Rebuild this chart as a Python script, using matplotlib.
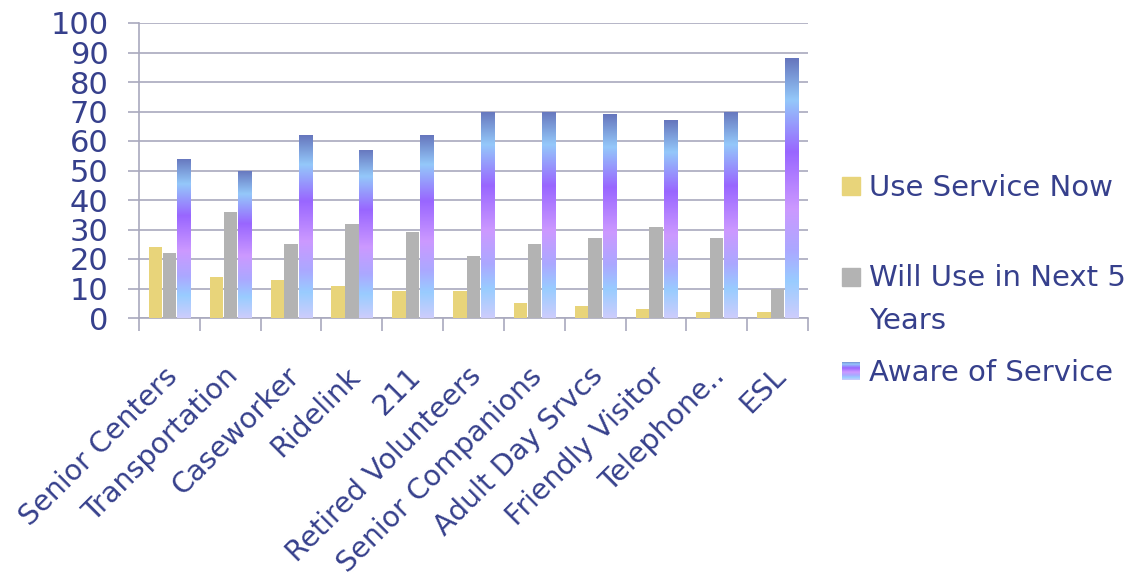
import numpy as np
import matplotlib
matplotlib.use("Agg")
import matplotlib.pyplot as plt
import matplotlib.transforms as mtransforms
from matplotlib.colors import LinearSegmentedColormap
from matplotlib.patches import Rectangle

# ---- data -------------------------------------------------------------
categories = ["Senior Centers", "Transportation", "Caseworker", "Ridelink", "211",
              "Retired Volunteers", "Senior Companions", "Adult Day Srvcs",
              "Friendly Visitor", "Telephone..", "ESL"]
use_now = [24, 14, 13, 11, 9, 9, 5, 4, 3, 2, 2]
use_next5 = [22, 36, 25, 32, 29, 21, 25, 27, 31, 27, 10]
aware = [54, 50, 62, 57, 62, 70, 70, 69, 67, 70, 88]
series_labels = ["Use Service Now", ["Will Use in Next 5", "Years"], "Aware of Service"]
y_ticks = list(range(0, 101, 10))

# ---- style ------------------------------------------------------------
text_color = "#36408C"
grid_color = "#A9A9BE"
yellow = "#E8D47A"
gray = "#B3B3B3"
aware_cmap = LinearSegmentedColormap.from_list(
    "aware",
    [(0.00, "#CDCDFC"), (0.14, "#99CCFF"), (0.26, "#ABA8FF"), (0.42, "#CC99FF"),
     (0.64, "#9966FF"), (0.84, "#94C8FA"), (1.00, "#6676BD")])

plt.rcParams["font.family"] = ["DejaVu Sans"]

fig = plt.figure(figsize=(11.35, 5.8), dpi=100)
fig.patch.set_facecolor("white")
W, H = 1135, 580
ax = fig.add_axes([139 / W, 1 - 318 / H, (808 - 139) / W, (318 - 23) / H])

x = np.arange(len(categories))
width = 0.22
ax.bar(x - 0.225, use_now, width, color=yellow, zorder=3)
ax.bar(x, use_next5, width, color=gray, zorder=3)
aware_bars = ax.bar(x + 0.235, aware, width, color="none", zorder=3)

# vertical gradient fill for each awareness bar
grad = np.linspace(0, 1, 256).reshape(-1, 1)
for rect in aware_bars:
    x0, w, h = rect.get_x(), rect.get_width(), rect.get_height()
    im = ax.imshow(grad, cmap=aware_cmap, origin="lower", aspect="auto",
                   extent=(x0, x0 + w, 0, h), zorder=3, interpolation="bilinear")
    im.set_clip_path(rect)

ax.set_xlim(-0.5, len(categories) - 0.5)
ax.set_ylim(0, 100)

# axes, grid and ticks
for side in ("top", "right"):
    ax.spines[side].set_visible(False)
for side in ("left", "bottom"):
    ax.spines[side].set_color(grid_color)
    ax.spines[side].set_linewidth(1.2)
ax.set_yticks(y_ticks)
ax.yaxis.grid(True, color=grid_color, linewidth=1.2, zorder=0)
ax.set_axisbelow(True)
ax.tick_params(axis="y", length=8, width=1.2, color=grid_color, pad=14,
               labelsize=22, labelcolor=text_color)

ax.set_xticks(np.arange(len(categories) + 1) - 0.5)
ax.set_xticklabels([])
ax.tick_params(axis="x", length=9, width=1.2, color=grid_color)

# rotated category labels
label_trans = mtransforms.blended_transform_factory(ax.transData, ax.transAxes) + \
    mtransforms.ScaledTranslation(-6 / 100, -44 / 100, fig.dpi_scale_trans)
for xi, name in zip(x, categories):
    ax.text(xi, 0, name, transform=label_trans, rotation=45,
            rotation_mode="anchor", ha="right", va="top",
            fontsize=20.5, color=text_color, clip_on=False)

# legend drawn on the figure
sq = 18
legend_rows = [(177, yellow, [196]), (268, gray, [286, 329]), (362, None, [381])]
for (top, col, baselines), label in zip(legend_rows, series_labels):
    if col is not None:
        fig.patches.append(Rectangle((842 / W, 1 - (top + sq) / H), sq / W, sq / H,
                                     transform=fig.transFigure, color=col))
    else:
        lax = fig.add_axes([842 / W, 1 - (top + sq) / H, sq / W, sq / H])
        lax.imshow(grad, cmap=aware_cmap, origin="lower", aspect="auto",
                   interpolation="bilinear")
        lax.axis("off")
    lines = label if isinstance(label, list) else [label]
    for line, base in zip(lines, baselines):
        fig.text(869 / W, 1 - base / H, line, fontsize=21, color=text_color,
                 ha="left", va="baseline")

fig.savefig("out.png", dpi=100, facecolor="white")
